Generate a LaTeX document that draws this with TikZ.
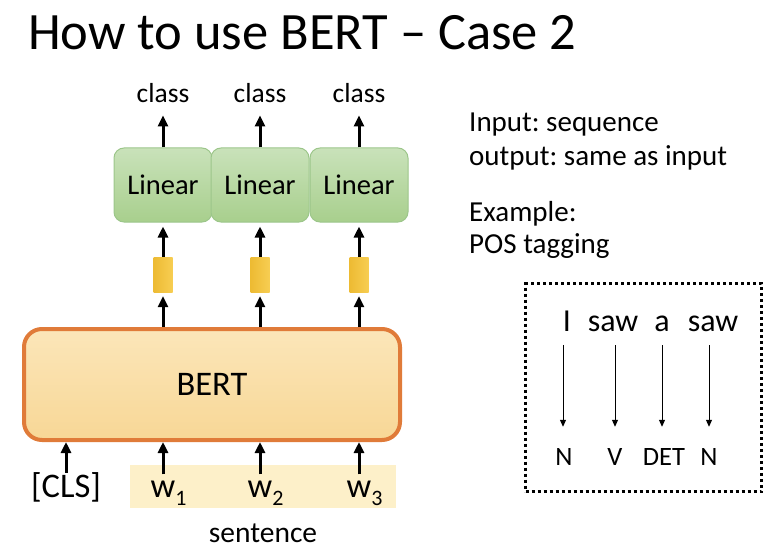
\documentclass[tikz,border=0pt]{standalone}
\usepackage{fontspec}
\setmainfont{Carlito}
\usetikzlibrary{arrows.meta}
\frenchspacing
\definecolor{lintop}{HTML}{C9E2BA}
\definecolor{linbot}{HTML}{A8CF8D}
\definecolor{lindraw}{HTML}{9CC68A}
\definecolor{yelL}{HTML}{EDBB33}
\definecolor{yelR}{HTML}{F7CD52}
\definecolor{berttop}{HTML}{FBE6B9}
\definecolor{bertbot}{HTML}{F8D796}
\definecolor{bertdraw}{HTML}{E07B39}
\definecolor{sentbg}{HTML}{FDF0C9}
\begin{document}
\begin{tikzpicture}[x=1pt,y=-1pt,
  arr/.style={line width=3pt,-{Triangle[length=11pt,width=10pt]}},
  thinarr/.style={line width=1pt,-{Triangle[length=7pt,width=6pt]}},
  linbox/.style={draw=lindraw,line width=1pt,rounded corners=10pt,top color=lintop,bottom color=linbot,
    minimum width=98pt,minimum height=74pt,inner sep=0pt,font=\fontsize{28.5}{30}\selectfont},
  yel/.style={left color=yelL,right color=yelR,minimum width=19pt,minimum height=35pt,inner sep=0pt},
  bertbox/.style={draw=bertdraw,line width=4pt,rounded corners=18pt,top color=berttop,bottom color=bertbot,
    minimum width=376pt,minimum height=111pt,inner sep=0pt,font=\fontsize{34.5}{36}\selectfont},
  lab/.style={anchor=base,inner sep=0pt,font=\fontsize{27.5}{30}\selectfont},
  inlab/.style={anchor=base,inner sep=0pt,font=\fontsize{34.5}{36}\selectfont},
  rtxt/.style={anchor=base west,inner sep=0pt,font=\fontsize{29}{32}\selectfont},
  word/.style={anchor=base,inner sep=0pt,font=\fontsize{32}{34}\selectfont},
  tag/.style={anchor=base,inner sep=0pt,font=\fontsize{26.5}{30}\selectfont},
  dotbox/.style={draw,line width=3pt,dash pattern=on 3pt off 3pt,minimum width=236pt,minimum height=208pt,inner sep=0pt}
]
\useasboundingbox (0,0) rectangle (770,548);
\node[anchor=base west,inner sep=0pt,font=\fontsize{52.5}{60}\selectfont] (title) at (28,50) {How to use BERT – Case 2};

% Linear boxes
\node[linbox] (l1) at (163,185) {Linear};
\node[linbox] (l2) at (260,185) {Linear};
\node[linbox] (l3) at (359,185) {Linear};

% class labels
\node[lab] (c1) at (163,103) {class};
\node[lab] (c2) at (260,103) {class};
\node[lab] (c3) at (359,103) {class};
\draw[arr,shorten >=12pt] (l1.north) -- (c1.south);
\draw[arr,shorten >=12pt] (l2.north) -- (c2.south);
\draw[arr,shorten >=12pt] (l3.north) -- (c3.south);

% yellow vectors
\node[yel] (y1) at (163,274.5) {};
\node[yel] (y2) at (260,274.5) {};
\node[yel] (y3) at (359,274.5) {};
\draw[arr,shorten >=4pt] (y1.north) -- (l1.south);
\draw[arr,shorten >=4pt] (y2.north) -- (l2.south);
\draw[arr,shorten >=4pt] (y3.north) -- (l3.south);

% BERT
\node[bertbox] (bert) at (212,384.5) {BERT};
\draw[arr,shorten >=4pt] (y1 |- bert.north) -- (y1.south);
\draw[arr,shorten >=4pt] (y2 |- bert.north) -- (y2.south);
\draw[arr,shorten >=4pt] (y3 |- bert.north) -- (y3.south);

% inputs
\node[fill=sentbg,minimum width=266pt,minimum height=43pt,inner sep=0pt] (sbg) at (263,486.5) {};
\node[inlab] (cls) at (66,497) {[CLS]};
\node[inlab] (w1) at (163,497) {w\rlap{\raisebox{-8pt}{\fontsize{22}{22}\selectfont 1}}};
\node[inlab] (w2) at (260,497) {w\rlap{\raisebox{-8pt}{\fontsize{22}{22}\selectfont 2}}};
\node[inlab] (w3) at (359,497) {w\rlap{\raisebox{-8pt}{\fontsize{22}{22}\selectfont 3}}};
\draw[arr,shorten <=-1pt] (cls.north) -- (cls |- bert.south);
\draw[arr,shorten <=6pt] (w1.north) -- (w1 |- bert.south);
\draw[arr,shorten <=6pt] (w2.north) -- (w2 |- bert.south);
\draw[arr,shorten <=6pt] (w3.north) -- (w3 |- bert.south);
\node[lab,font=\fontsize{29.5}{32}\selectfont] (sent) at (263,542) {sentence};

% right text
\node[rtxt] (r1) at (469,132) {Input: sequence};
\node[rtxt] (r2) at (469,165) {output: same as input};
\node[rtxt] (r3) at (469,221.7) {Example:};
\node[rtxt] (r4) at (469,253) {POS tagging};

% POS tagging example
\node[dotbox] (pos) at (643.5,387.5) {};
\node[word] (wd1) at (567,331.7) {I};
\node[word] (wd2) at (613,331.7) {saw};
\node[word] (wd3) at (662,331.7) {a};
\node[word] (wd4) at (713,331.7) {saw};
\node[tag] (t1) at (564,465) {N};
\node[tag] (t2) at (615,465) {V};
\node[tag] (t3) at (664,465) {DET};
\node[tag] (t4) at (709,465) {N};
\draw[thinarr,shorten <=13pt,shorten >=21pt] ([xshift=-1pt]t1.north |- wd1.south) -- ([xshift=-1pt]t1.north);
\draw[thinarr,shorten <=13pt,shorten >=21pt] (t2.north |- wd2.south) -- (t2.north);
\draw[thinarr,shorten <=13pt,shorten >=21pt] ([xshift=-2pt]t3.north |- wd3.south) -- ([xshift=-2pt]t3.north);
\draw[thinarr,shorten <=13pt,shorten >=21pt] (t4.north |- wd4.south) -- (t4.north);
\end{tikzpicture}
\end{document}
